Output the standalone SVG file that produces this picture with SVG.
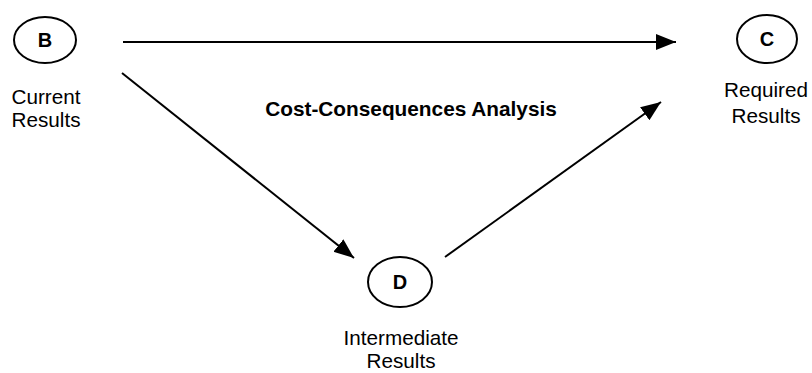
<svg xmlns="http://www.w3.org/2000/svg" width="812" height="373" viewBox="0 0 812 373">
<style>
.node ellipse{fill:#fff;stroke:#000;stroke-width:2}
.letter{font-family:"Liberation Sans",Arial,sans-serif;font-weight:bold;font-size:20px;text-anchor:middle;fill:#000}
.label{font-family:"Liberation Sans",Arial,sans-serif;font-size:20.7px;text-anchor:middle;fill:#000}
.title{font-family:"Liberation Sans",Arial,sans-serif;font-weight:bold;font-size:20.8px;text-anchor:middle;fill:#000}
.conn line{stroke:#000;stroke-width:2;marker-end:url(#ah)}
</style>
<defs>
<marker id="ah" markerUnits="userSpaceOnUse" markerWidth="21" markerHeight="17" refX="20" refY="8" orient="auto" viewBox="0 0 21 17">
<path d="M0,0 L20,8 L0,16 z" fill="#000"/>
</marker>
</defs>
<rect width="812" height="373" fill="#fff"/>
<g id="connectors" class="conn">
<line x1="123" y1="42" x2="676" y2="42"/>
<line x1="122" y1="73" x2="354" y2="258"/>
<line x1="445" y1="257" x2="661" y2="102"/>
</g>
<g id="node-B" class="node">
<ellipse cx="45" cy="40" rx="31" ry="23"/>
<text class="letter" x="45" y="47">B</text>
<text class="label" x="46" y="104">Current</text>
<text class="label" x="46" y="127">Results</text>
</g>
<g id="node-C" class="node">
<ellipse cx="767" cy="39" rx="30" ry="24"/>
<text class="letter" x="767" y="46">C</text>
<text class="label" x="766" y="97">Required</text>
<text class="label" x="766" y="123">Results</text>
</g>
<g id="node-D" class="node">
<ellipse cx="400" cy="282" rx="32" ry="25"/>
<text class="letter" x="400" y="289">D</text>
<text class="label" x="401" y="345">Intermediate</text>
<text class="label" x="401" y="368">Results</text>
</g>
<g id="title">
<text class="title" x="411" y="116">Cost-Consequences Analysis</text>
</g>
</svg>
